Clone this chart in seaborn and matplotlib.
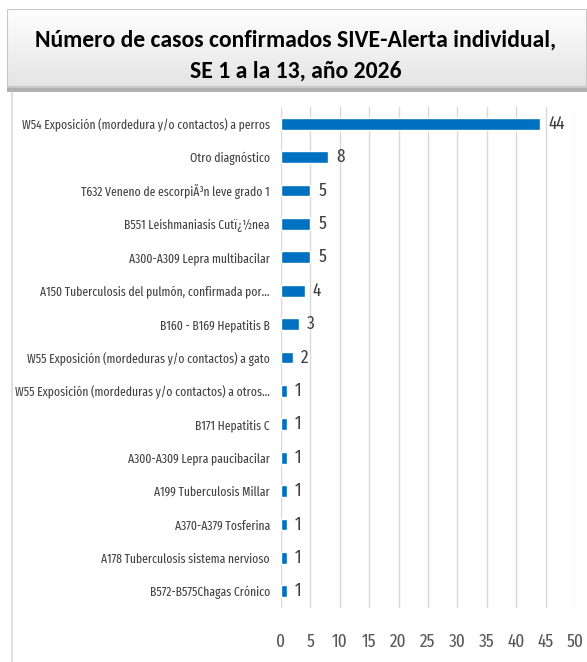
import numpy as np
import pandas as pd
import matplotlib
matplotlib.use("Agg")
import matplotlib.pyplot as plt
import seaborn as sns
from matplotlib.patches import Rectangle

categorias = [
    "W54 Exposición (mordedura y/o contactos) a perros",
    "Otro diagnóstico",
    "T632 Veneno de escorpiÃ³n leve grado 1",
    "B551 Leishmaniasis Cutï¿½nea",
    "A300-A309 Lepra multibacilar",
    "A150 Tuberculosis del pulmón, confirmada por...",
    "B160 - B169 Hepatitis B",
    "W55 Exposición (mordeduras y/o contactos) a gato",
    "W55 Exposición (mordeduras y/o contactos) a otros...",
    "B171 Hepatitis C",
    "A300-A309 Lepra paucibacilar",
    "A199 Tuberculosis Millar",
    "A370-A379 Tosferina",
    "A178 Tuberculosis sistema nervioso",
    "B572-B575Chagas Crónico",
]
casos = [44, 8, 5, 5, 5, 4, 3, 2, 1, 1, 1, 1, 1, 1, 1]
ticks_x = [0, 5, 10, 15, 20, 25, 30, 35, 40, 45, 50]

titulo = "Número de casos confirmados SIVE-Alerta individual,\nSE 1 a la 13, año 2026"

sns.set_style("white")
plt.rcParams['font.family'] = ['Fira Sans Extra Condensed', 'DejaVu Sans']

df = pd.DataFrame({"categoria": categorias, "casos": casos})

W, H = 587, 662
fig = plt.figure(figsize=(W / 100, H / 100), dpi=100)

# marco izquierdo
fig.add_artist(plt.Line2D([12 / W, 12 / W], [0, 1 - 92 / H], color="#d9d9d9", lw=1.2))

# caja del titulo con degradado
ax_t = fig.add_axes([7 / W, 1 - 92 / H, 1 - 7 / W, 83 / H])
ax_t.set_xlim(0, 1)
ax_t.set_ylim(0, 1)
ax_t.axis("off")
grad = np.linspace(0, 1, 100).reshape(-1, 1)
cmap = matplotlib.colors.LinearSegmentedColormap.from_list("g", ["#ffffff", "#e4e4e4"])
ax_t.imshow(grad, extent=[0, 1, 0.06, 1], aspect="auto", cmap=cmap, origin="upper")
ax_t.add_patch(Rectangle((0, 0), 1, 0.06, color="#b0b0b0", lw=0))
ax_t.add_patch(Rectangle((0, 0.06), 1, 0.94, fill=False, ec="#c8c8c8", lw=1.5))
ax_t.text(0.5 - 7 / W / 2 + 0.004, 0.44, titulo, ha="center", va="center", fontsize=17,
          fontweight="bold", family=["Carlito", "DejaVu Sans"], linespacing=1.6,
          color="#000000")

ax = fig.add_axes([281 / W, 1 - 608 / H, 294 / W, 501 / H])
sns.barplot(data=df, x="casos", y="categoria", color="#0070C0", width=0.35,
            saturation=1, ax=ax, orient="h")
ax.set_xlim(0, 50)
ax.set_xticks(ticks_x)
ax.set_xlabel("")
ax.set_ylabel("")
ax.grid(axis="x", color="#d9d9d9", lw=1)
ax.set_axisbelow(True)
for s in ax.spines.values():
    s.set_visible(False)
ax.tick_params(axis="y", length=0, pad=8, labelsize=9.1, labelcolor="#404040")
ax.tick_params(axis="x", length=0, pad=18, labelsize=13.5, labelcolor="#595959")
for c in ax.containers:
    ax.bar_label(c, padding=6, fontsize=13.5, color="#404040")

fig.savefig("out.png", dpi=100)
